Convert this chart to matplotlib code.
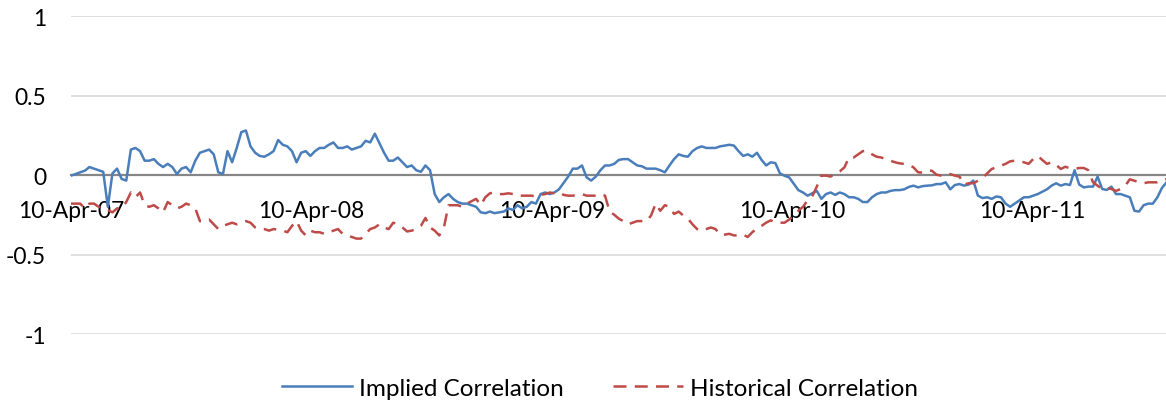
import matplotlib
matplotlib.use("Agg")
import matplotlib.pyplot as plt
import matplotlib.dates as mdates
import pandas as pd

plt.rcParams['font.family'] = ['Lato', 'DejaVu Sans']
plt.rcParams['axes.unicode_minus'] = False

# Weekly observations starting 10-Apr-2007
start_date = "2007-04-10"

implied_corr = [
    -0.004, 0.006, 0.017, 0.027, 0.05, 0.04, 0.03, 0.02, -0.20, 0.01,
    0.04, -0.025, -0.035, 0.16, 0.17, 0.15, 0.09, 0.09, 0.10, 0.07,
    0.05, 0.07, 0.05, 0.006, 0.04, 0.05, 0.017, 0.09, 0.14, 0.15,
    0.16, 0.13, 0.017, 0.006, 0.15, 0.08, 0.17, 0.27, 0.28, 0.18,
    0.14, 0.12, 0.115, 0.13, 0.15, 0.22, 0.19, 0.18, 0.15, 0.08,
    0.14, 0.15, 0.12, 0.15, 0.17, 0.17, 0.19, 0.205, 0.17, 0.17,
    0.18, 0.16, 0.17, 0.18, 0.215, 0.205, 0.26, 0.20, 0.14, 0.09,
    0.09, 0.11, 0.08, 0.05, 0.06, 0.03, 0.02, 0.06, 0.03, -0.12,
    -0.17, -0.14, -0.12, -0.15, -0.17, -0.18, -0.18, -0.19, -0.20, -0.235,
    -0.24, -0.23, -0.24, -0.235, -0.23, -0.21, -0.22, -0.19, -0.21, -0.20,
    -0.17, -0.18, -0.12, -0.11, -0.12, -0.11, -0.09, -0.05, -0.01, 0.04,
    0.04, 0.06, -0.015, -0.035, -0.01, 0.03, 0.06, 0.06, 0.07, 0.095,
    0.10, 0.10, 0.08, 0.06, 0.055, 0.04, 0.04, 0.04, 0.03, 0.017,
    0.06, 0.10, 0.13, 0.12, 0.115, 0.15, 0.17, 0.18, 0.17, 0.17,
    0.17, 0.18, 0.185, 0.19, 0.185, 0.15, 0.12, 0.13, 0.115, 0.14,
    0.095, 0.06, 0.08, 0.075, 0.01, -0.005, -0.015, -0.055, -0.095, -0.11,
    -0.13, -0.115, -0.10, -0.15, -0.12, -0.11, -0.125, -0.11, -0.12, -0.14,
    -0.14, -0.15, -0.17, -0.17, -0.14, -0.12, -0.11, -0.11, -0.10, -0.095,
    -0.095, -0.09, -0.075, -0.067, -0.078, -0.07, -0.067, -0.065, -0.057, -0.057,
    -0.046, -0.09, -0.063, -0.057, -0.067, -0.06, -0.035, -0.13, -0.145, -0.14,
    -0.15, -0.135, -0.14, -0.18, -0.20, -0.18, -0.16, -0.14, -0.14, -0.13,
    -0.12, -0.105, -0.09, -0.067, -0.052, -0.067, -0.057, -0.063, 0.03, -0.06,
    -0.078, -0.073, -0.073, -0.01, -0.088, -0.094, -0.073, -0.12, -0.12, -0.13,
    -0.14, -0.225, -0.23, -0.19, -0.18, -0.18, -0.14, -0.08, -0.046,
]

historical_corr = [
    -0.18, -0.18, -0.18, -0.21, -0.18, -0.18, -0.20, -0.21, -0.22, -0.235,
    -0.21, -0.21, -0.17, -0.11, -0.14, -0.11, -0.19, -0.20, -0.19, -0.21,
    -0.235, -0.17, -0.19, -0.21, -0.20, -0.18, -0.19, -0.21, -0.29, -0.29,
    -0.28, -0.31, -0.34, -0.32, -0.31, -0.30, -0.31, -0.30, -0.29, -0.30,
    -0.33, -0.34, -0.34, -0.35, -0.34, -0.345, -0.35, -0.36, -0.32, -0.29,
    -0.35, -0.38, -0.35, -0.36, -0.36, -0.37, -0.36, -0.35, -0.34, -0.37,
    -0.38, -0.39, -0.40, -0.40, -0.37, -0.34, -0.33, -0.31, -0.33, -0.34,
    -0.30, -0.31, -0.33, -0.355, -0.35, -0.34, -0.32, -0.27, -0.33, -0.35,
    -0.38, -0.33, -0.19, -0.19, -0.19, -0.20, -0.18, -0.165, -0.15, -0.19,
    -0.14, -0.115, -0.11, -0.12, -0.12, -0.115, -0.12, -0.13, -0.13, -0.13,
    -0.13, -0.135, -0.125, -0.12, -0.11, -0.115, -0.11, -0.125, -0.13, -0.13,
    -0.125, -0.12, -0.13, -0.13, -0.13, -0.12, -0.13, -0.23, -0.25, -0.275,
    -0.29, -0.31, -0.30, -0.29, -0.29, -0.29, -0.255, -0.18, -0.225, -0.19,
    -0.20, -0.245, -0.23, -0.255, -0.275, -0.31, -0.34, -0.35, -0.34, -0.33,
    -0.34, -0.375, -0.375, -0.37, -0.38, -0.38, -0.375, -0.39, -0.36, -0.335,
    -0.32, -0.30, -0.285, -0.30, -0.30, -0.30, -0.28, -0.255, -0.225, -0.20,
    -0.16, -0.135, -0.073, -0.004, -0.004, -0.01, 0.01, 0.023, 0.048, 0.11,
    0.11, 0.13, 0.15, 0.153, 0.13, 0.115, 0.11, 0.10, 0.09, 0.08,
    0.073, 0.07, 0.065, 0.048, 0.017, 0.015, 0.027, 0.027, 0.002, -0.004,
    -0.004, 0.006, -0.004, -0.01, -0.06, -0.052, -0.052, -0.036, -0.02, 0.01,
    0.038, 0.048, 0.059, 0.07, 0.086, 0.09, 0.084, 0.08, 0.07, 0.10,
    0.12, 0.094, 0.07, 0.08, 0.063, 0.038, 0.052, 0.042, 0.038, 0.044,
    0.044, 0.03, -0.046, -0.067, -0.088, -0.082, -0.088, -0.10, -0.088, -0.067,
    -0.027, -0.036, -0.046, -0.052, -0.046, -0.046, -0.046, -0.036, -0.025,
]

y_ticks = [1, 0.5, 0, -0.5, -1]
y_tick_labels = ["1", "0.5", "0", "-0.5", "-1"]
x_tick_dates = ["2007-04-10", "2008-04-10", "2009-04-10", "2010-04-10", "2011-04-10"]

dates = pd.date_range(start_date, periods=len(implied_corr), freq="7D")

fig = plt.figure(figsize=(11.66, 4.02), dpi=100)
ax = fig.add_axes([71 / 1166, 1 - 335 / 402, 1095 / 1166, 318 / 402])

ax.plot(dates, implied_corr, color="#4A7EBB", lw=1.8, label="Implied Correlation",
        solid_joinstyle="round", zorder=3)
ax.plot(dates, historical_corr, color="#BE4B48", lw=1.8, ls=(0, (5.2, 3.3)),
        label="Historical Correlation", zorder=3)

ax.set_ylim(-1, 1)
ax.set_xlim(pd.Timestamp(start_date), pd.Timestamp(start_date) + pd.Timedelta(days=1665))

ax.set_yticks(y_ticks)
ax.set_yticklabels(y_tick_labels)
ax.set_xticks(pd.to_datetime(x_tick_dates))
ax.xaxis.set_major_formatter(mdates.DateFormatter("%d-%b-%y"))

for yv in y_ticks:
    if yv != 0:
        ax.axhline(yv, color="#D9D9D9", lw=1.2, zorder=1)

for side in ["top", "right", "left"]:
    ax.spines[side].set_visible(False)
ax.spines["bottom"].set_position(("data", 0))
ax.spines["bottom"].set_color("#868686")
ax.spines["bottom"].set_linewidth(1.6)
ax.spines["bottom"].set_zorder(2)

ax.tick_params(axis="both", length=0, labelsize=16.5, colors="black")
ax.tick_params(axis="y", pad=18)
ax.tick_params(axis="x", pad=18)

fig.legend(loc="center", bbox_to_anchor=(600 / 1166, 1 - 389 / 402), ncol=2,
           frameon=False, fontsize=17.5, handlelength=2.9, handletextpad=0.3,
           columnspacing=2.0)

fig.savefig("out.png", dpi=100)
